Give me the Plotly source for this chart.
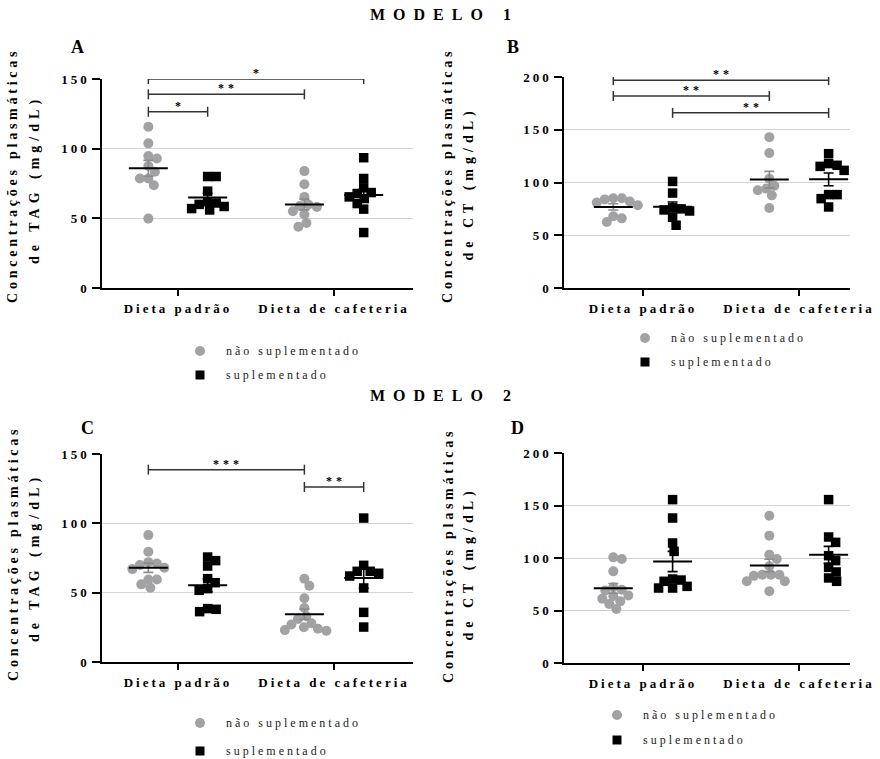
import json
import numpy as np
import plotly.graph_objects as go

# ---------------- data ----------------
categories = ["Dieta padrão", "Dieta de cafeteria"]
group_names = ["não suplementado", "suplementado"]

# Modelo 1 - TAG (A)
A_padrao_nao = [115.7, 103.8, 94.7, 93.0, 87.5, 83.4, 78.6, 78.6, 73.8, 49.8]
A_padrao_sup = [80.0, 80.0, 69.5, 62.0, 61.0, 60.0, 58.5, 57.0, 56.0]
A_cafe_nao = [83.9, 74.5, 65.4, 59.9, 58.9, 58.2, 55.1, 52.7, 46.7, 43.9]
A_cafe_sup = [93.5, 78.6, 71.9, 68.5, 67.8, 65.4, 64.2, 60.6, 56.6, 39.8]
# Modelo 1 - CT (B)
B_padrao_nao = [85.0, 84.0, 81.0, 78.5, 82.0, 85.0, 68.0, 62.5, 66.0]
B_padrao_sup = [101.0, 90.0, 76.0, 75.0, 74.0, 73.0, 67.0, 59.5]
B_cafe_nao = [143.0, 128.0, 103.6, 97.0, 94.2, 92.6, 87.8, 75.8]
B_cafe_sup = [127.3, 117.9, 116.3, 115.3, 111.5, 88.5, 88.5, 84.7, 76.8]
# Modelo 2 - TAG (C)
C_padrao_nao = [91.5, 79.5, 72.0, 71.0, 70.0, 68.0, 67.0, 59.5, 59.5, 56.0, 53.5]
C_padrao_sup = [75.7, 73.1, 69.2, 60.1, 57.2, 52.9, 51.7, 38.5, 38.0, 36.3]
C_cafe_nao = [60.0, 55.0, 46.0, 39.0, 33.0, 31.0, 28.0, 27.0, 25.0, 24.0, 22.5, 23.0]
C_cafe_sup = [103.8, 69.7, 65.4, 65.4, 64.0, 62.0, 53.4, 35.8, 25.2]
# Modelo 2 - CT (D)
D_padrao_nao = [100.6, 99.0, 87.3, 72.1, 69.8, 69.0, 63.5, 64.4, 61.3, 58.7, 56.2, 51.4]
D_padrao_sup = [155.6, 138.1, 114.3, 106.3, 80.0, 79.0, 77.8, 73.0, 71.4, 71.4]
D_cafe_nao = [140.3, 121.3, 103.2, 99.0, 92.1, 84.1, 84.0, 83.0, 84.0, 77.8, 77.8, 68.3]
D_cafe_sup = [155.6, 120.0, 114.9, 102.2, 97.5, 91.1, 86.7, 81.0, 77.8]

# significance brackets: (group from, group to, height, label)
# group index: 0 padrão/não, 1 padrão/sup, 2 cafeteria/não, 3 cafeteria/sup
A_sig = [(0, 3, 150, "*"), (0, 2, 139, "**"), (0, 1, 126.5, "*")]
B_sig = [(0, 3, 197, "**"), (0, 2, 182, "**"), (1, 3, 166, "**")]
C_sig = [(0, 2, 138.7, "***"), (2, 3, 126.2, "**")]
D_sig = []

A_ticks = [0, 50, 100, 150]
B_ticks = [0, 50, 100, 150, 200]

# ---------------- layout constants ----------------
W, H = 880, 759
SERIF = "Liberation Serif"
GREY = "#a2a2a5"


def px(x):
    return x / W


def py(y):
    return 1 - y / H


panels = [
    dict(key="A", ax="", data=[A_padrao_nao, A_padrao_sup, A_cafe_nao, A_cafe_sup], sig=A_sig,
         ticks=A_ticks, xdom=(102, 413), ydom=(288, 79), xr=(-0.487, 1.506),
         title2="de TAG (mg/dL)", tx=(13, 35), ty=(175, 180), letter=(77, 47),
         leg=(200, 351, 375)),
    dict(key="B", ax="2", data=[B_padrao_nao, B_padrao_sup, B_cafe_nao, B_cafe_sup], sig=B_sig,
         ticks=B_ticks, xdom=(564, 850), ydom=(288, 77), xr=(-0.506, 1.327),
         title2="de CT (mg/dL)", tx=(448, 469), ty=(175, 183), letter=(513, 47),
         leg=(645, 338, 362)),
    dict(key="C", ax="3", data=[C_padrao_nao, C_padrao_sup, C_cafe_nao, C_cafe_sup], sig=C_sig,
         ticks=A_ticks, xdom=(102, 413), ydom=(662, 454), xr=(-0.487, 1.506),
         title2="de TAG (mg/dL)", tx=(13, 35), ty=(553, 558), letter=(87, 428),
         leg=(200, 723, 751)),
    dict(key="D", ax="4", data=[D_padrao_nao, D_padrao_sup, D_cafe_nao, D_cafe_sup], sig=D_sig,
         ticks=B_ticks, xdom=(564, 850), ydom=(663, 453), xr=(-0.506, 1.327),
         title2="de CT (mg/dL)", tx=(448, 469), ty=(555, 563), letter=(517, 428),
         leg=(617, 715, 740)),
]

OFF = 0.19      # group offset from category tick (x units)
KX = 156.0      # px per x unit
MEANW = 0.125   # half width of mean line


def swarm(vals, ky, D=8.5):
    placed = []
    res = [0.0] * len(vals)
    order = sorted(range(len(vals)), key=lambda i: -vals[i])
    for i in order:
        y = vals[i] * ky
        chosen = 0.0
        for step in range(0, 400):
            cands = [0.0] if step == 0 else [step * 0.5, -step * 0.5]
            ok = False
            for c in cands:
                if all((c - a) ** 2 + (y - b) ** 2 >= D * D for a, b in placed):
                    chosen = c
                    ok = True
                    break
            if ok:
                break
        placed.append((chosen, y))
        res[i] = chosen / KX
    return res


fig = go.Figure()
annotations = []
spacing = []  # letter spacing per annotation
shapes = []


def add_ann(sp, **kw):
    annotations.append(kw)
    spacing.append(sp)


layout = dict(width=W, height=H, margin=dict(l=0, r=0, t=0, b=0, autoexpand=False),
              paper_bgcolor="white", plot_bgcolor="white", showlegend=False)

for p in panels:
    ax = p["ax"]
    xa, ya = "x" + ax, "y" + ax
    ymax = p["ticks"][-1]
    ky = (p["ydom"][0] - p["ydom"][1]) / ymax
    centers = [-OFF, OFF, 1 - OFF, 1 + OFF]
    for gi, vals in enumerate(p["data"]):
        sup = gi % 2 == 1
        color = "black" if sup else GREY
        jit = swarm(vals, ky)
        xs = [centers[gi] + j for j in jit]
        fig.add_trace(go.Scatter(
            x=xs, y=vals, mode="markers", xaxis=xa, yaxis=ya,
            marker=dict(symbol="square" if sup else "circle", size=9.5 if sup else 10,
                        color=color, line=dict(width=0)),
            name=group_names[gi % 2] + " – " + categories[gi // 2],
            cliponaxis=False, hoverinfo="y"))
        arr = np.array(vals)
        m = arr.mean()
        sem = arr.std(ddof=1) / np.sqrt(len(arr))
        fig.add_trace(go.Scatter(
            x=[centers[gi]], y=[m], mode="markers", xaxis=xa, yaxis=ya,
            marker=dict(size=1, color="rgba(0,0,0,0)"),
            error_y=dict(type="data", array=[sem], color="#8c8c8c" if not sup else "black",
                         thickness=1.6, width=5),
            hoverinfo="skip"))
        fig.add_trace(go.Scatter(
            x=[centers[gi] - MEANW, centers[gi] + MEANW], y=[m, m], mode="lines",
            xaxis=xa, yaxis=ya, line=dict(color="black", width=2), hoverinfo="skip"))
    # significance brackets
    tick = 5.0 / ky
    for g1, g2, h, lab in p["sig"]:
        x1, x2 = centers[g1], centers[g2]
        fig.add_trace(go.Scatter(
            x=[x1, x2, None, x1, x1, None, x2, x2],
            y=[h, h, None, h - tick, h + tick, None, h - tick, h + tick],
            mode="lines", xaxis=xa, yaxis=ya, line=dict(color="#333333", width=1.5),
            cliponaxis=False, hoverinfo="skip"))
        add_ann(4, x=(x1 + x2) / 2, y=h, xref=xa, yref=ya, text=lab, showarrow=False,
                yanchor="bottom", xanchor="center", yshift=-3, xshift=2,
                font=dict(family=SERIF, size=12, color="black", weight="bold"))

    layout["xaxis" + ax] = dict(
        domain=[px(p["xdom"][0]), px(p["xdom"][1])], range=list(p["xr"]),
        anchor=ya, showline=True, linecolor="black", linewidth=1.5,
        ticks="outside", ticklen=6, tickwidth=1.5, tickcolor="black",
        tickvals=[0, 1], ticktext=categories, showgrid=False, zeroline=False,
        automargin=False, ticklabelstandoff=2, fixedrange=True,
        tickfont=dict(family=SERIF, size=13, color="black", weight="bold"))
    layout["yaxis" + ax] = dict(
        domain=[py(p["ydom"][0]), py(p["ydom"][1])], range=[0, ymax],
        anchor=xa, showline=True, linecolor="black", linewidth=1.5,
        ticks="outside", ticklen=8, tickwidth=1.5, tickcolor="black",
        tickvals=p["ticks"], showgrid=True, gridcolor="#d4d4d4", gridwidth=1,
        zeroline=False, automargin=False, fixedrange=True,
        tickfont=dict(family=SERIF, size=13, color="black", weight="bold"))

    # legend (symbols + text)
    lx, ly1, ly2 = p["leg"]
    shapes.append(dict(type="circle", xref="paper", yref="paper", xsizemode="pixel",
                       ysizemode="pixel", xanchor=px(lx), yanchor=py(ly1),
                       x0=-5, x1=5, y0=-5, y1=5, fillcolor=GREY, line=dict(width=0)))
    shapes.append(dict(type="rect", xref="paper", yref="paper", xsizemode="pixel",
                       ysizemode="pixel", xanchor=px(lx), yanchor=py(ly2),
                       x0=-4.5, x1=4.5, y0=-4.5, y1=4.5, fillcolor="black", line=dict(width=0)))
    for ly, name in ((ly1, group_names[0]), (ly2, group_names[1])):
        lsp = 3
        add_ann(lsp, x=px(lx + 24), y=py(ly), xref="paper", yref="paper", text=name,
                showarrow=False, xanchor="left", yanchor="middle",
                xshift=len(name) * lsp / 2.0,
                font=dict(family=SERIF, size=12, color="#222222"))

    # axis titles
    add_ann(3.75, x=px(p["tx"][0]), y=py(p["ty"][0]), xref="paper", yref="paper",
            text="Concentrações plasmáticas", textangle=-90, showarrow=False,
            xanchor="center", yanchor="middle",
            font=dict(family=SERIF, size=14, color="black", weight="bold"))
    add_ann(5, x=px(p["tx"][1]), y=py(p["ty"][1]), xref="paper", yref="paper",
            text=p["title2"], textangle=-90, showarrow=False,
            xanchor="center", yanchor="middle",
            font=dict(family=SERIF, size=14, color="black", weight="bold"))
    # panel letter
    add_ann(0, x=px(p["letter"][0]), y=py(p["letter"][1]), xref="paper", yref="paper",
            text=p["key"], showarrow=False, xanchor="center", yanchor="middle",
            font=dict(family=SERIF, size=18, color="black", weight="bold"))

add_ann(8, x=px(444), y=py(15), xref="paper", yref="paper", text="MODELO 1",
        showarrow=False, xanchor="center", yanchor="middle",
        font=dict(family=SERIF, size=16, color="black", weight="bold"))
add_ann(8, x=px(444), y=py(395), xref="paper", yref="paper", text="MODELO 2",
        showarrow=False, xanchor="center", yanchor="middle",
        font=dict(family=SERIF, size=16, color="black", weight="bold"))

layout["annotations"] = annotations
layout["shapes"] = shapes
fig.update_layout(**layout)

post = """
document.body.style.margin = '0';
document.body.style.padding = '0';
document.documentElement.style.overflow = 'hidden';
var gd = document.getElementById('{plot_id}');
var SP = %s;
function applySpacing(){
  gd.querySelectorAll('.xaxislayer-above text, .yaxislayer-above text').forEach(function(t){ t.style.letterSpacing = '3px'; });
  gd.querySelectorAll('g.annotation').forEach(function(g){
    var i = parseInt(g.getAttribute('data-index'));
    var t = g.querySelector('text');
    if (t && !isNaN(i) && SP[i]) { t.style.letterSpacing = SP[i] + 'px'; }
  });
}
applySpacing();
gd.on('plotly_afterplot', applySpacing);
""" % json.dumps(spacing)

fig.write_html("out.html", post_script=post, config={"displayModeBar": False})
